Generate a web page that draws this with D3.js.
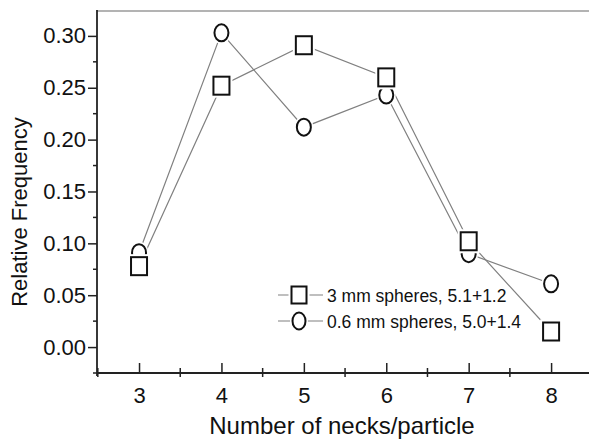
<!DOCTYPE html>
<html>
<head>
<meta charset="utf-8">
<script src="https://cdn.jsdelivr.net/npm/d3@7"></script>
<style>
    html, body { margin: 0; padding: 0; background: #fff; }
    svg { display: block; font-family: "Liberation Sans", Arial, Helvetica, sans-serif; }
</style>
</head>
<body>
<div id="chart"></div>
<script>
// data
const necks = [3, 4, 5, 6, 7, 8];
const spheres3mm = [0.078, 0.252, 0.291, 0.260, 0.102, 0.015];
const spheres06mm = [0.091, 0.303, 0.212, 0.243, 0.090, 0.061];
const yTicks = [0.00, 0.05, 0.10, 0.15, 0.20, 0.25, 0.30];
const yMinorTicks = [-0.025, 0.025, 0.075, 0.125, 0.175, 0.225, 0.275];
const xMinorTicks = [2.5, 3.5, 4.5, 5.5, 6.5, 7.5];
const legendLabels = ["3 mm spheres, 5.1+1.2", "0.6 mm spheres, 5.0+1.4"];

const width = 589, height = 448;
const lineColor = "#808080";

const svg = d3.select("#chart").append("svg")
    .attr("width", width)
    .attr("height", height);

// scales (plot frame: x 97..589, y 11..373)
const x = d3.scaleLinear().domain([2.49, 8.46]).range([97, 589]);
const y = d3.scaleLinear().domain([-0.025, 0.324]).range([373, 11]);

// top frame line
svg.append("line")
    .attr("x1", x.range()[0]).attr("x2", x.range()[1])
    .attr("y1", y.range()[1]).attr("y2", y.range()[1])
    .attr("stroke", "#9a9a9a")
    .attr("stroke-width", 1.5);

// Y axis
const yAxis = svg.append("g")
    .attr("transform", `translate(${x.range()[0]},0)`)
    .call(d3.axisLeft(y).tickValues(yTicks).tickSize(9).tickPadding(2)
        .tickFormat(d3.format(".2f")));
yAxis.select(".domain").remove();
yAxis.selectAll(".tick line").attr("stroke", "#222").attr("stroke-width", 1.5);
yAxis.selectAll(".tick text").attr("font-size", 22).attr("fill", "#111")
    .attr("font-family", "Liberation Sans, Arial, sans-serif");
yAxis.selectAll(".minor")
    .data(yMinorTicks)
    .enter().append("line")
    .attr("class", "minor")
    .attr("x1", -4).attr("x2", 0)
    .attr("y1", d => y(d)).attr("y2", d => y(d))
    .attr("stroke", "#222").attr("stroke-width", 1.5);
yAxis.append("line")
    .attr("x1", 0).attr("x2", 0)
    .attr("y1", y.range()[1] - 1).attr("y2", y.range()[0] + 3)
    .attr("stroke", "#222").attr("stroke-width", 1.8);

// X axis (major ticks point inward)
const xAxis = svg.append("g")
    .attr("transform", `translate(0,${y.range()[0]})`)
    .call(d3.axisBottom(x).tickValues(necks).tickSizeInner(-10).tickSizeOuter(0)
        .tickPadding(14).tickFormat(d3.format("d")));
xAxis.select(".domain").remove();
xAxis.selectAll(".tick line").attr("stroke", "#222").attr("stroke-width", 1.5);
xAxis.selectAll(".tick text").attr("font-size", 22).attr("fill", "#111")
    .attr("font-family", "Liberation Sans, Arial, sans-serif");
xAxis.selectAll(".minor")
    .data(xMinorTicks)
    .enter().append("line")
    .attr("class", "minor")
    .attr("x1", d => x(d)).attr("x2", d => x(d))
    .attr("y1", -5).attr("y2", 4)
    .attr("stroke", "#222").attr("stroke-width", 1.5);
xAxis.append("line")
    .attr("x1", x.range()[0]).attr("x2", x.range()[1])
    .attr("y1", 0).attr("y2", 0)
    .attr("stroke", "#222").attr("stroke-width", 1.8);

// axis titles
svg.append("text")
    .attr("x", 342).attr("y", 434)
    .attr("text-anchor", "middle")
    .attr("font-size", 24)
    .attr("fill", "#111")
    .text("Number of necks/particle");

svg.append("text")
    .attr("transform", "translate(27,212) rotate(-90)")
    .attr("text-anchor", "middle")
    .attr("font-size", 22)
    .attr("fill", "#111")
    .text("Relative Frequency");

// marker helpers
function drawSquare(g, cx, cy, w, h) {
    g.append("rect")
        .attr("x", cx - w / 2).attr("y", cy - h / 2)
        .attr("width", w).attr("height", h)
        .attr("fill", "#fff").attr("stroke", "#fff").attr("stroke-width", 6);
    g.append("rect")
        .attr("x", cx - w / 2).attr("y", cy - h / 2)
        .attr("width", w).attr("height", h)
        .attr("fill", "#fff").attr("stroke", "#111").attr("stroke-width", 2);
}

function drawCircle(g, cx, cy, rx, ry) {
    g.append("ellipse")
        .attr("cx", cx).attr("cy", cy).attr("rx", rx).attr("ry", ry)
        .attr("fill", "#fff").attr("stroke", "#fff").attr("stroke-width", 5);
    g.append("ellipse")
        .attr("cx", cx).attr("cy", cy).attr("rx", rx).attr("ry", ry)
        .attr("fill", "#fff").attr("stroke", "#111").attr("stroke-width", 2);
}

// series lines
const line = d3.line().x((d, i) => x(necks[i])).y(d => y(d));
[spheres06mm, spheres3mm].forEach(series => {
    svg.append("path")
        .datum(series)
        .attr("d", line)
        .attr("fill", "none")
        .attr("stroke", lineColor)
        .attr("stroke-width", 1.2);
});

// markers: circles underneath, squares on top
const markers = svg.append("g");
spheres06mm.forEach((v, i) => drawCircle(markers, x(necks[i]), y(v), 7, 8.5));
spheres3mm.forEach((v, i) => drawSquare(markers, x(necks[i]), y(v), 16, 18));

// legend
const legend = svg.append("g").attr("transform", "translate(278,295)");
legendLabels.forEach((label, i) => {
    const g = legend.append("g").attr("transform", `translate(0,${i * 26})`);
    g.append("line")
        .attr("x1", 0).attr("x2", 45)
        .attr("y1", 0).attr("y2", 0)
        .attr("stroke", lineColor).attr("stroke-width", 1.2);
    if (i === 0) drawSquare(g, 21, 0, 15, 17);
    else drawCircle(g, 21, 0, 6.5, 8.5);
    g.append("text")
        .attr("x", 49).attr("y", 7)
        .attr("font-size", 17.5)
        .attr("fill", "#111")
        .text(label);
});
</script>
</body>
</html>
